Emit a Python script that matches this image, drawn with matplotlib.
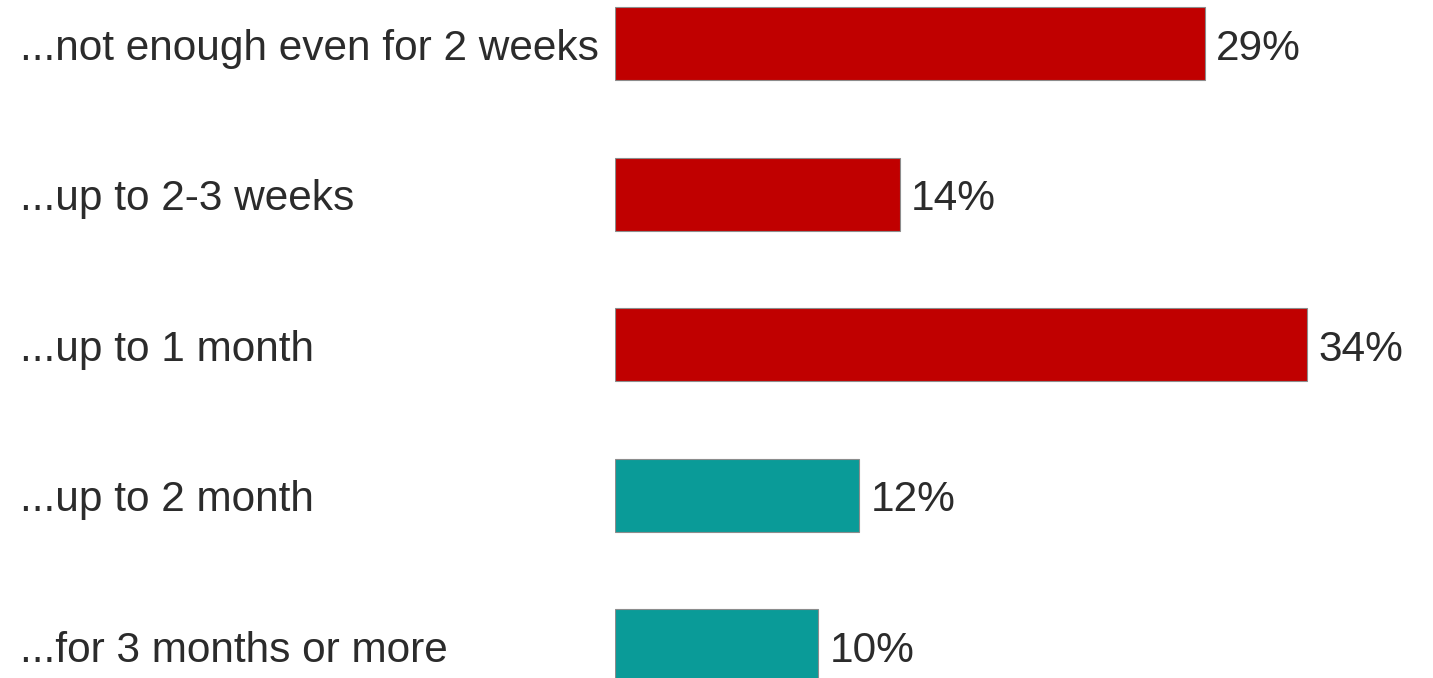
import matplotlib.pyplot as plt
from matplotlib.transforms import blended_transform_factory

categories = ['...not enough even for 2 weeks', '...up to 2-3 weeks', '...up to 1 month',
              '...up to 2 month', '...for 3 months or more']
shares = [29, 14, 34, 12, 10]
colors = ['#c00000', '#c00000', '#c00000', '#0a9b98', '#0a9b98']

plt.rcParams['font.family'] = ['Liberation Sans', 'DejaVu Sans']

fig = plt.figure(figsize=(14.33, 6.78), dpi=100)
ax = fig.add_axes([615 / 1433, 0, 818 / 1433, 1])

pos = list(range(len(categories)))
ax.barh(pos, shares, height=0.485, color=colors, edgecolor='#8c8c8c', linewidth=0.8)

ax.set_xlim(0, 40.2)
ax.set_ylim(4.213, -0.292)
ax.axis('off')

# value labels, baseline a bit below the bar centre
for p, v in zip(pos, shares):
    ax.annotate(f'{v}%', xy=(v, p), xytext=(8, -11.5), textcoords='offset points',
                va='baseline', ha='left', fontsize=30.5, color='#2b2b2b')

trans = blended_transform_factory(fig.transFigure, ax.transData)
for p, name in zip(pos, categories):
    ax.annotate(name, xy=(20 / 1433, p), xycoords=trans, xytext=(0, -11.5),
                textcoords='offset points', va='baseline', ha='left',
                fontsize=30.5, color='#2b2b2b')

fig.savefig('out.png', dpi=100)
